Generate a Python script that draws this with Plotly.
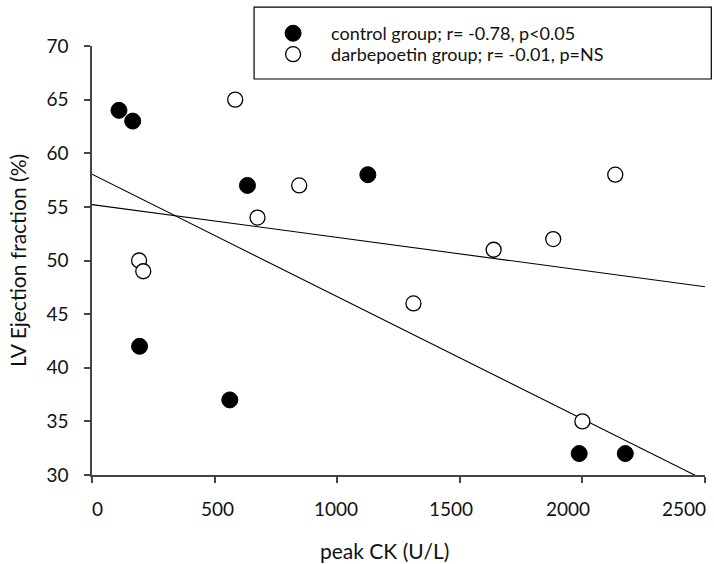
import numpy as np
import plotly.graph_objects as go

# Data
control_ck = [110, 166, 194, 562, 634, 1125, 1987, 2175]
control_ef = [64, 63, 42, 37, 57, 58, 32, 32]
darbe_ck = [584, 192, 209, 675, 845, 1311, 1638, 1881, 2134, 2000]
darbe_ef = [65, 50, 49, 54, 57, 46, 51, 52, 58, 35]

control_label = "control group; r= -0.78, p<0.05"
darbe_label = "darbepoetin group; r= -0.01, p=NS"

x_ticks = [0, 500, 1000, 1500, 2000, 2500]
x_tick_labels = ["0", "500", "1000", "1500", "2000", "2500"]
y_ticks = [30, 35, 40, 45, 50, 55, 60, 65, 70]
y_tick_labels = ["30", "35", "40", "45", "50", "55", "60", "65", "70"]

x_title = "peak CK (U/L)"
y_title = "LV Ejection fraction (%)"

# horizontal pixel offsets of the x tick labels (style, as in the original typesetting)
x_label_shift = [5, 3, -1, -9, -14, -21]

FONT = "Lato"

fit_x = np.array([0, 2500])
c_coef = np.polyfit(control_ck, control_ef, 1)
d_coef = np.polyfit(darbe_ck, darbe_ef, 1)

fig = go.Figure()
fig.add_trace(go.Scatter(x=fit_x, y=np.polyval(c_coef, fit_x), mode="lines",
                         line=dict(color="black", width=1.1), showlegend=False,
                         hoverinfo="skip"))
fig.add_trace(go.Scatter(x=fit_x, y=np.polyval(d_coef, fit_x), mode="lines",
                         line=dict(color="black", width=1.1), showlegend=False,
                         hoverinfo="skip"))
fig.add_trace(go.Scatter(x=control_ck, y=control_ef, mode="markers", name=control_label,
                         legend="legend",
                         marker=dict(size=16, color="black", line=dict(color="black", width=1))))
fig.add_trace(go.Scatter(x=darbe_ck, y=darbe_ef, mode="markers", name=darbe_label,
                         legend="legend2",
                         marker=dict(size=15, color="white", line=dict(color="black", width=1.3))))

axis_common = dict(showgrid=False, zeroline=False, showline=True, linecolor="#444",
                   linewidth=1.5, ticks="outside", ticklen=6, tickcolor="#444",
                   tickwidth=1.5, automargin=False,
                   tickfont=dict(family=FONT, size=19, color="#111"))

fig.update_xaxes(range=[0, 2500], tickvals=x_ticks, ticktext=x_tick_labels,
                 showticklabels=False, **axis_common)
fig.update_yaxes(range=[30, 70], tickvals=y_ticks, ticktext=y_tick_labels,
                 title=dict(text=y_title, font=dict(family=FONT, size=21, color="#111"),
                            standoff=14),
                 ticklabelstandoff=12, **axis_common)

PLOT_L, PLOT_T, PLOT_W, PLOT_H = 92, 46, 612.7, 429.3


def px_x(px):
    return (px - PLOT_L) / PLOT_W


def px_y(py):
    return (PLOT_T + PLOT_H - py) / PLOT_H


# x tick labels
for v, lab, sh in zip(x_ticks, x_tick_labels, x_label_shift):
    fig.add_annotation(x=v, xref="x", y=0, yref="paper", text=lab, showarrow=False,
                       xanchor="center", yanchor="middle", xshift=sh, yshift=-33,
                       font=dict(family=FONT, size=19, color="#111"))

# x axis title
fig.add_annotation(x=px_x(384), xref="paper", y=px_y(551), yref="paper", text=x_title,
                   showarrow=False, xanchor="center", yanchor="middle",
                   font=dict(family=FONT, size=21, color="#111"))

# legend frame
fig.add_shape(type="rect", xref="paper", yref="paper",
              x0=px_x(254), x1=px_x(711), y0=px_y(79), y1=px_y(7),
              line=dict(color="black", width=1.2), fillcolor="rgba(0,0,0,0)", layer="above")

legend_common = dict(xanchor="left", yanchor="top", bgcolor="rgba(0,0,0,0)", borderwidth=0,
                     itemwidth=66, font=dict(family=FONT, size=18, color="#111"))

fig.update_layout(
    width=714, height=564,
    margin=dict(l=92, r=9, t=46, b=89, autoexpand=False),
    plot_bgcolor="white", paper_bgcolor="white",
    font=dict(family=FONT, color="#111"),
    legend=dict(x=px_x(255), y=px_y(15), **legend_common),
    legend2=dict(x=px_x(255), y=px_y(36), **legend_common),
)

fig.write_html(
    "out.html",
    config={"displayModeBar": False},
    post_script="document.body.style.margin='0';document.body.style.overflow='hidden';",
)
